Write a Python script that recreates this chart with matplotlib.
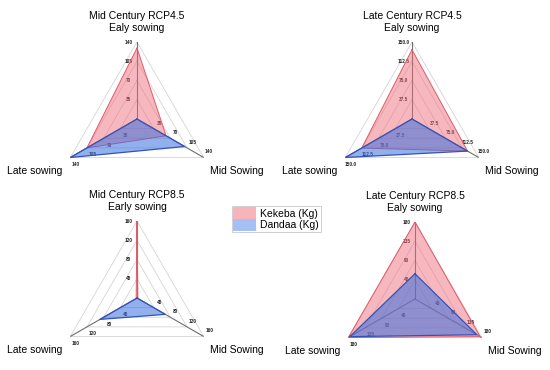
import numpy as np
import matplotlib
matplotlib.use('Agg')
from matplotlib import pyplot as plt
from matplotlib.patches import Patch

plt.rcParams['font.family'] = ['Liberation Sans', 'DejaVu Sans']

# axes order: Early / Mid / Late sowing
titles = ['Mid Century RCP4.5\nEaly sowing', 'Late Century RCP4.5\nEaly sowing',
          'Mid Century RCP8.5\nEarly sowing', 'Late Century RCP8.5\nEaly sowing']
ticks = [[35, 70, 105, 140], [37.5, 75.0, 112.5, 150.0],
         [40, 80, 120, 160], [45, 90, 135, 180]]
tick_fmt = ['{:.0f}', '{:.1f}', '{:.0f}', '{:.0f}']
kekeba = [[129, 61, 105], [135, 125, 113], [160, 2, 2], [180, 176, 180]]
dandaa = [[0, 100, 140], [0, 125, 150], [0, 68, 89], [59, 167, 176]]

# panel centres / radius in pixels
centres = [(137, 119), (412, 119), (137, 298), (415, 299)]
R = 77
W, H = 550, 370

angles = np.deg2rad([90, -30, 210])
ang_c = np.append(angles, angles[0])

fig = plt.figure(figsize=(5.5, 3.7), dpi=100)

for i in range(4):
    cx, cy = centres[i]
    ax = fig.add_axes([(cx - R) / W, 1 - (cy + R) / H, 2 * R / W, 2 * R / H],
                      projection='polar')
    ax.grid(False)
    ax.spines['polar'].set_visible(False)
    ax.set_xticks([])
    ax.set_yticks([])
    rmax = ticks[i][-1]
    ax.set_ylim(0, rmax)

    # triangular grid
    for t in ticks[i]:
        ax.plot(ang_c, [t] * 4, color='#d4d4d4', lw=0.6, zorder=1)
    for a in angles:
        ax.plot([a, a], [0, rmax], color='#6e6e6e', lw=0.8, zorder=1)

    # tick labels, offset perpendicular to each spoke
    offs = [(-6, 0), (4, 4), (4, -5)]
    for a, off in zip(angles, offs):
        for t in ticks[i]:
            ax.annotate(tick_fmt[i].format(t), (a, t), xytext=off,
                        textcoords='offset points', ha='center', va='center',
                        fontsize=3.4, fontweight='bold', color='#222222',
                        zorder=2, annotation_clip=False)

    k = kekeba[i] + kekeba[i][:1]
    d = dandaa[i] + dandaa[i][:1]
    ax.fill(ang_c, k, color='#f06a78', alpha=0.48, zorder=3, lw=0)
    ax.plot(ang_c, k, color='#e05a68', lw=0.7, zorder=4)
    ax.fill(ang_c, d, color='#3a6fe0', alpha=0.55, zorder=5, lw=0)
    ax.plot(ang_c, d, color='#3553b5', lw=0.9, zorder=6)

    ax.text(0.5, 1.13, titles[i], transform=ax.transAxes, ha='center',
            va='center', fontsize=7.5, linespacing=1.35)
    ax.text(-0.165, 0.165, 'Late sowing', transform=ax.transAxes,
            ha='center', va='center', fontsize=7.5)
    ax.text(1.15, 0.165, 'Mid Sowing', transform=ax.transAxes,
            ha='center', va='center', fontsize=7.5)

handles = [Patch(facecolor='#f9b4ba', edgecolor='none', label='Kekeba (Kg)'),
           Patch(facecolor='#a4c0f4', edgecolor='none', label='Dandaa (Kg)')]
leg = fig.legend(handles=handles, loc='center', bbox_to_anchor=(0.502, 0.408),
                 fontsize=7.5, fancybox=False, handlelength=2.2, handleheight=1.3,
                 labelspacing=0.05, borderpad=0.15, handletextpad=0.4,
                 borderaxespad=0)
leg.get_frame().set_edgecolor('#bbbbbb')
leg.get_frame().set_linewidth(0.6)

fig.savefig('out.png', dpi=100)
